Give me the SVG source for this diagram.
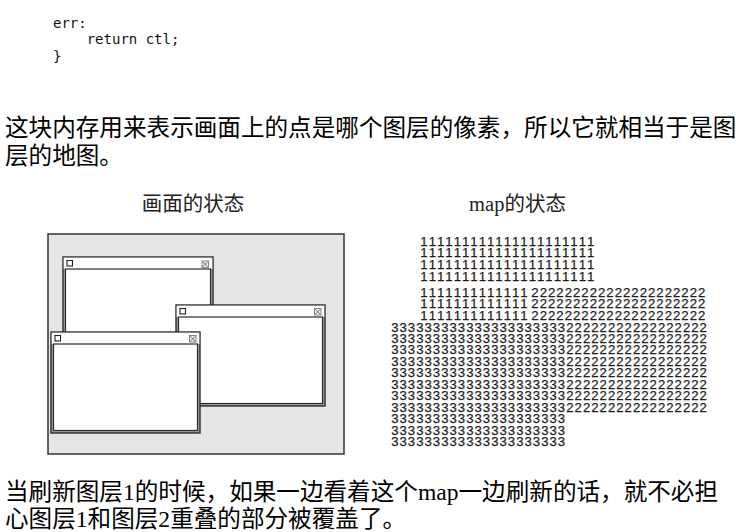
<svg xmlns="http://www.w3.org/2000/svg" width="736" height="532" viewBox="0 0 736 532">
<style>
.code{font-family:"DejaVu Sans Mono","Liberation Mono",monospace;font-size:14px;fill:#111}
.para{font-family:"Liberation Serif","Noto Sans CJK SC",serif;font-size:23.6px;fill:#000}
.title{font-family:"Liberation Serif","Noto Sans CJK SC",serif;font-size:20.5px;fill:#222}
.d{font-family:"Liberation Sans",Arial,sans-serif;font-size:13.2px;letter-spacing:1.0px;font-kerning:none;fill:#1e1e1e;stroke:#1e1e1e;stroke-width:0.25}
.frame{fill:#a0a0a0;stroke:#2b2b2b;stroke-width:1.4}
.tbar{fill:#fff}
.body{fill:#fff;stroke:#2b2b2b;stroke-width:1.2}
.sq{fill:#fff;stroke:#222;stroke-width:1.1}
.xb{fill:#eee;stroke:#666;stroke-width:0.8}
.xl{stroke:#555;stroke-width:0.8}
</style>
<defs>
<g id="closebox">
<rect class="xb" x="0" y="0" width="6.5" height="6.5"/>
<path class="xl" d="M0.8 0.8L5.7 5.7M5.7 0.8L0.8 5.7"/>
</g>
</defs>
<rect width="736" height="532" fill="#fff"/>

<g id="code">
<text class="code" x="53" y="27.5">err:</text>
<text class="code" x="86.7" y="44">return ctl;</text>
<text class="code" x="53" y="60.5">}</text>
</g>

<g id="intro-text">
<text class="para" x="5" y="136">这块内存用来表示画面上的点是哪个图层的像素，所以它就相当于是图</text>
<text class="para" x="5" y="164">层的地图。</text>
</g>

<g id="screen-state">
<text class="title" x="193" y="211" text-anchor="middle">画面的状态</text>
<rect x="48" y="234" width="296" height="220" fill="#e5e5e5" stroke="#333" stroke-width="1.5"/>
<g id="window1">
<rect class="frame" x="63" y="257" width="150" height="143"/>
<rect class="tbar" x="63.7" y="257.7" width="148.6" height="11.3"/>
<rect class="body" x="65.5" y="269" width="145" height="128.5"/>
<rect class="sq" x="67" y="260.5" width="5.5" height="5.5"/>
<use href="#closebox" x="202" y="261"/>
</g>
<g id="window2">
<rect class="frame" x="176" y="305" width="149" height="101"/>
<rect class="tbar" x="176.7" y="305.7" width="147.6" height="11.3"/>
<rect class="body" x="178.5" y="317" width="144" height="86.5"/>
<rect class="sq" x="180" y="308.5" width="5.5" height="5.5"/>
<use href="#closebox" x="314.5" y="308.5"/>
</g>
<g id="window3">
<rect class="frame" x="51" y="332" width="149" height="101"/>
<rect class="tbar" x="51.7" y="332.7" width="147.6" height="11.3"/>
<rect class="body" x="53.5" y="344" width="144" height="86.5"/>
<rect class="sq" x="55" y="335.5" width="5.5" height="5.5"/>
<use href="#closebox" x="189.5" y="335.5"/>
</g>
</g>

<g id="map-state">
<text class="title" x="517.5" y="211" text-anchor="middle">map的状态</text>
<text class="d" x="420.3" y="245.5">111111111111111111111</text>
<text class="d" x="420.3" y="257.3">111111111111111111111</text>
<text class="d" x="420.3" y="269.1">111111111111111111111</text>
<text class="d" x="420.3" y="280.9">111111111111111111111</text>
<text class="d" x="420.3" y="296.5">1111111111111<tspan x="531.3">222222222222222222222</tspan></text>
<text class="d" x="420.3" y="308.2">1111111111111<tspan x="531.3">222222222222222222222</tspan></text>
<text class="d" x="420.3" y="319.8">1111111111111<tspan x="531.3">222222222222222222222</tspan></text>
<text class="d" x="391.2" y="331.5">33333333333333333333322222222222222222</text>
<text class="d" x="391.2" y="343">33333333333333333333322222222222222222</text>
<text class="d" x="391.2" y="354.4">33333333333333333333322222222222222222</text>
<text class="d" x="391.2" y="365.9">33333333333333333333322222222222222222</text>
<text class="d" x="391.2" y="377.3">33333333333333333333322222222222222222</text>
<text class="d" x="391.2" y="388.8">33333333333333333333322222222222222222</text>
<text class="d" x="391.2" y="400.2">33333333333333333333322222222222222222</text>
<text class="d" x="391.2" y="411.7">33333333333333333333322222222222222222</text>
<text class="d" x="391.2" y="423.1">333333333333333333333</text>
<text class="d" x="391.2" y="434.6">333333333333333333333</text>
<text class="d" x="391.2" y="446">333333333333333333333</text>
</g>

<g id="connectors"/>

<g id="outro-text">
<text class="para" x="5" y="500">当刷新图层1的时候，如果一边看着这个map一边刷新的话，就不必担</text>
<text class="para" x="5" y="527">心图层1和图层2重叠的部分被覆盖了。</text>
</g>
</svg>
